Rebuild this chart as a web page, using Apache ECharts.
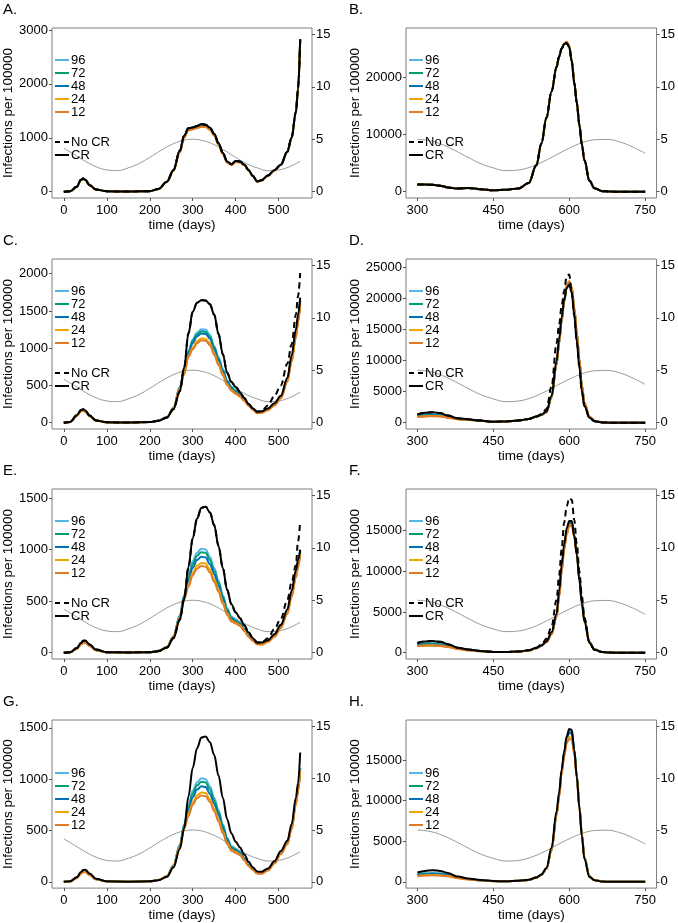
<!DOCTYPE html>
<html>
<head>
<meta charset="utf-8">
<script src="https://cdn.jsdelivr.net/npm/echarts@6/dist/echarts.min.js"></script>
<style>
  html, body { margin: 0; padding: 0; background: #fff; }
  #main { width: 678px; height: 923px; }
</style>
</head>
<body>
<div id="main"></div>
<script>
// days
const leftDays = [0,15,30,40,45,50,60,75,100,150, 200,220,240,255,270,280,290,300,310,320,
  330,340,350,360,370,380,390,400,410,420, 430,440,450,460,475,490,505,520,530,540, 545,550]
const rightDays = [300,315,330,345,360, 380,400,425,450,475, 500,520,535,545,555, 565,575,580,585,590,
  595,600,605,610,615, 620,625,630,640,650, 665,680,700,725,750]

// grey seasonal curve, right axis
const seasonLeftDays = [0,25,50,75,100,125,150,175,200,225,250,275,300,325,350,375,400,425,450,475,500,525,550]
const seasonLeft = [4.15,3.53,2.90,2.38,2.07,2.01,2.27,2.68,3.27,3.91,4.48,4.86,5.00,4.86,4.48,3.91,3.27,2.68,2.27,2.01,2.07,2.38,2.90]
const seasonRightDays = [300,325,350,375,400,425,450,475,500,525,550,575,600,625,650,675,700,725,750]
const seasonRight = [5.00,4.86,4.48,3.91,3.27,2.68,2.27,2.01,2.07,2.38,2.90,3.53,4.15,4.66,4.95,4.98,4.74,4.27,3.66]

const durations = ['96', '72', '48', '24', '12']
const durationColors = ['#56B4E9', '#009E73', '#0072B2', '#F0A500', '#E07B24']

// A
const A_cr = [0,10,90,220,245,220,120,40,8,3, 10,50,186,400,760,1040,1175,1190,1220,1250,
  1240,1185,1070,900,720,560,510,570,560,500, 400,290,190,210,300,400,500,740,1000,1480, 1900,2830]
const A_low = [0,10,88,215,240,215,118,40,8,3, 10,48,180,385,730,1000,1140,1160,1180,1205,
  1200,1150,1040,870,700,540,495,550,545,490, 395,285,185,205,295,395,495,735,995,1470, 1890,2810]

// C
const C_cr = [0,10,100,170,180,165,95,30,5,2, 8,25,70,180,420,740,1200,1490,1610,1645,
  1640,1590,1450,1190,920,670,545,480,410,330, 250,190,148,150,190,260,360,600,900,1250, 1450,1680]
const C_nocr = [0,10,100,170,180,165,95,30,5,2, 8,25,70,180,420,740,1200,1490,1610,1645,
  1640,1590,1450,1190,920,670,545,480,410,330, 250,190,148,155,230,360,500,790,1050,1450, 1700,2010]
const C_96 = [0,10,95,160,168,155,90,30,5,2, 8,28,75,200,480,700,960,1120,1210,1255,
  1250,1180,1030,880,720,570,480,430,385,320, 250,190,148,150,185,250,350,580,860,1200, 1400,1650]
const C_72 = [0,10,93,158,166,153,89,30,5,2, 8,27,74,198,475,690,945,1100,1185,1228,
  1222,1155,1010,862,705,560,472,422,378,315, 246,187,145,147,182,246,345,572,850,1185, 1385,1635]
const C_48 = [0,10,92,156,164,151,88,29,5,2, 8,27,73,196,470,680,930,1070,1160,1198,
  1192,1128,985,840,690,548,462,413,370,308, 241,183,140,143,178,242,340,565,840,1170, 1370,1620]
const C_24 = [0,10,90,152,160,148,86,28,5,2, 8,26,71,192,460,660,900,1010,1095,1132,
  1127,1065,930,795,650,515,440,395,355,295, 232,175,130,135,170,235,330,550,820,1145, 1345,1600]
const C_12 = [0,10,89,150,158,146,85,28,5,2, 8,26,70,190,455,650,885,985,1068,1105,
  1100,1040,910,775,635,505,430,388,350,290, 228,172,126,132,168,232,326,545,815,1140, 1340,1595]

// E
const E_cr = [0,5,45,95,115,118,80,30,5,2, 5,15,50,140,320,520,830,1110,1300,1405,
  1415,1360,1235,1035,820,610,470,390,335,265, 195,140,100,98,120,180,270,420,600,800, 900,1000]
const E_nocr = [0,5,45,95,115,118,80,30,5,2, 5,15,50,140,320,520,830,1110,1300,1405,
  1415,1360,1235,1035,820,610,470,390,335,265, 195,140,100,98,140,230,330,510,680,850, 1080,1270]
const E_96 = [0,4,40,85,100,100,70,25,4,2, 5,18,55,160,360,560,750,890,970,1008,
  1000,930,820,700,560,430,345,318,290,230, 170,130,97,95,115,170,255,400,570,760, 860,990]
const E_72 = [0,4,40,84,99,99,69,25,4,2, 5,18,54,158,355,550,725,860,940,975,
  968,900,795,680,545,420,338,312,285,226, 167,127,94,93,113,167,252,395,563,752, 852,980]
const E_48 = [0,4,39,83,98,98,68,24,4,2, 5,17,53,155,348,540,695,825,898,930,
  923,858,760,650,522,403,328,303,278,220, 162,122,90,90,110,163,248,390,555,745, 843,968]
const E_24 = [0,4,38,81,96,96,67,24,4,2, 5,17,52,152,340,525,660,775,842,870,
  864,805,712,610,490,380,312,290,266,212, 155,117,84,85,106,158,242,382,545,735, 832,955]
const E_12 = [0,4,38,80,95,95,66,24,4,2, 5,17,51,150,335,515,640,750,815,840,
  834,778,688,590,475,368,303,282,260,210, 155,115,80,78,104,155,238,375,540,728, 825,945]

// G
const G_cr = [0,5,45,95,115,118,80,30,5,2, 5,15,50,140,320,520,830,1110,1300,1405,
  1415,1360,1235,1035,820,610,470,390,335,265, 195,140,100,98,130,200,300,400,560,820, 960,1260]
const G_96 = [0,4,40,85,100,100,70,25,4,2, 5,18,55,160,360,560,750,890,970,1008,
  1000,930,820,700,560,430,345,318,290,230, 170,130,97,95,125,190,285,380,530,780, 910,1110]
const G_72 = [0,4,40,84,99,99,69,25,4,2, 5,18,54,158,355,550,725,860,940,975,
  968,900,795,680,545,420,338,312,285,226, 167,127,94,93,122,187,282,376,525,772, 902,1102]
const G_48 = [0,4,39,83,98,98,68,24,4,2, 5,17,53,155,348,540,695,825,898,930,
  923,858,760,650,522,403,328,303,278,220, 162,122,90,90,118,183,278,372,520,765, 895,1095]
const G_24 = [0,4,38,81,96,96,67,24,4,2, 5,17,52,152,340,525,660,775,842,870,
  864,805,712,610,490,380,312,290,266,212, 155,117,84,85,113,180,274,368,515,757, 887,1087]
const G_12 = [0,4,38,80,95,95,66,24,4,2, 5,17,51,150,335,515,640,750,815,840,
  834,778,688,590,475,368,303,282,260,210, 155,115,80,78,110,178,270,365,510,750, 880,1080]

// B
const B_cr = [1250,1250,1200,1050,750, 550,650,450,250,350, 550,1500,4600,8400,12900,
  17500,21800,23600,25000,25800, 26000,25300,22800,19000,15500, 11700,8200,5500,1900,600, 100,20,5,2,0]
const B_12 = [1250,1250,1200,1050,750, 550,650,450,250,350, 550,1500,4600,8400,12900,
  17500,21800,23600,25000,25900, 26200,25500,23000,19200,15600, 11800,8300,5600,1900,600, 100,20,5,2,0]

// D
const D_cr = [1350,1600,1700,1550,1150, 700,550,350,150,200, 350,600,1000,1300,1800,
  4300,10000,13500,17000,19800, 21700,22250,20900,17300,13000, 9000,5000,2700,800,250, 50,10,2,0,0]
const D_nocr = [1350,1600,1700,1550,1150, 700,550,350,150,200, 350,600,1000,1400,2200,
  5800,12800,15800,18800,21300, 23600,23900,21000,17300,13000, 9000,5000,2700,800,250, 50,10,2,0,0]
const D_96 = [1150,1300,1350,1250,950, 600,480,320,140,190, 340,580,950,1250,1700,
  4000,9300,12800,16300,19500, 21800,22300,21600,18300,14300, 10000,5800,3100,900,280, 55,10,2,0,0]
const D_72 = [1100,1240,1290,1200,920, 590,475,318,140,190, 340,580,950,1250,1700,
  4050,9350,12850,16350,19600, 21900,22450,21700,18400,14400, 10100,5900,3150,920,285, 56,10,2,0,0]
const D_48 = [1050,1180,1230,1150,890, 580,470,315,140,190, 340,580,950,1250,1700,
  4100,9400,12900,16400,19650, 22000,22550,21750,18450,14450, 10150,5950,3170,940,290, 58,10,2,0,0]
const D_24 = [950,1050,1100,1050,850, 560,460,310,140,190, 340,580,950,1250,1700,
  4150,9450,12950,16450,19700, 22100,22700,21800,18500,14500, 10200,6000,3200,960,295, 60,10,2,0,0]
const D_12 = [900,1000,1050,1000,800, 550,450,305,140,190, 340,580,950,1250,1700,
  4200,9500,13000,16500,19800, 22200,22800,21850,18550,14550, 10250,6050,3250,980,300, 60,10,2,0,0]

// F
const F_cr = [1200,1380,1430,1350,1050, 620,400,220,100,80, 150,300,600,900,1400,
  2500,4800,7500,10800,13300, 15300,16200,16200,14300,12000, 8900,6000,3800,1200,350, 80,15,3,0,0]
const F_nocr = [1200,1380,1430,1350,1050, 620,400,220,100,80, 150,300,600,1000,1700,
  3200,6500,9500,12700,16000, 18000,19000,18800,16300,13300, 10000,6900,4300,1300,350, 80,15,3,0,0]
const F_96 = [1030,1130,1150,1100,900, 550,350,200,95,75, 140,280,560,850,1300,
  2300,4500,7000,10200,13000, 15000,15950,16100,14500,12300, 9300,6400,4100,1300,400, 90,18,3,0,0]
const F_72 = [980,1070,1090,1045,860, 530,340,195,93,74, 140,280,560,850,1300,
  2300,4500,7000,10150,12950, 14950,15900,16050,14450,12250, 9250,6350,4080,1290,395, 88,18,3,0,0]
const F_48 = [930,1010,1030,990,820, 510,330,190,92,73, 140,280,560,850,1300,
  2300,4480,6950,10100,12900, 14900,15850,16000,14400,12200, 9200,6300,4050,1280,390, 87,17,3,0,0]
const F_24 = [830,900,910,875,740, 470,310,185,90,72, 140,280,560,850,1300,
  2280,4450,6900,10000,12750, 14700,15650,15800,14250,12100, 9150,6250,4000,1270,385, 85,17,3,0,0]
const F_12 = [780,840,850,820,700, 450,300,180,90,72, 140,280,560,850,1300,
  2250,4400,6850,9900,12600, 14550,15500,15700,14150,12050, 9100,6200,3980,1260,380, 85,16,3,0,0]

// H
const H_cr = [1150,1350,1420,1350,1100, 650,420,220,100,80, 130,250,550,900,1700,
  4200,8700,11000,13800,16000, 17900,18800,18700,16200,12900, 9100,5600,2800,600,200, 40,8,2,0,0]
const H_96 = [930,1050,1100,1050,900, 550,360,200,95,75, 125,240,530,870,1600,
  3900,8300,10700,13600,15900, 17800,18550,18500,16300,13100, 9400,5900,3000,700,220, 45,9,2,0,0]
const H_72 = [880,990,1030,990,860, 530,350,195,94,75, 125,240,530,870,1600,
  3900,8280,10650,13550,15850, 17700,18400,18350,16200,13050, 9350,5850,2980,700,220, 45,9,2,0,0]
const H_48 = [830,930,970,930,820, 510,340,190,93,74, 125,240,530,870,1600,
  3880,8250,10600,13500,15750, 17600,18300,18250,16100,13000, 9300,5800,2960,690,218, 44,9,2,0,0]
const H_24 = [730,820,850,820,720, 470,315,182,91,73, 125,240,530,870,1600,
  3860,8200,10500,13350,15500, 17250,17800,17750,15800,12850, 9200,5750,2940,680,215, 44,9,2,0,0]
const H_12 = [690,780,800,780,680, 450,300,180,90,72, 125,240,530,870,1600,
  3850,8150,10450,13250,15350, 17050,17550,17500,15650,12750, 9150,5700,2920,675,212, 43,9,2,0,0]

const leftTicks = [0, 100, 200, 300, 400, 500]
const rightTicks = [300, 450, 600, 750]
const seasonTicks = [0, 5, 10, 15]

const panels = [
  { label: 'A.', col: 0, row: 0, yMin: -117, yMax: 3037, yTicks: [0, 1000, 2000, 3000],
    lines: [A_cr, A_cr, A_cr, A_low, A_low], cr: A_cr, nocr: A_cr },
  { label: 'B.', col: 1, row: 0, yMin: -1100, yMax: 28600, yTicks: [0, 10000, 20000],
    lines: [B_cr, B_cr, B_cr, B_12, B_12], cr: B_cr, nocr: B_cr },
  { label: 'C.', col: 0, row: 1, yMin: -85, yMax: 2198, yTicks: [0, 500, 1000, 1500, 2000],
    lines: [C_96, C_72, C_48, C_24, C_12], cr: C_cr, nocr: C_nocr },
  { label: 'D.', col: 1, row: 1, yMin: -1015, yMax: 26400, yTicks: [0, 5000, 10000, 15000, 20000, 25000],
    lines: [D_96, D_72, D_48, D_24, D_12], cr: D_cr, nocr: D_nocr },
  { label: 'E.', col: 0, row: 2, yMin: -61, yMax: 1587, yTicks: [0, 500, 1000, 1500],
    lines: [E_96, E_72, E_48, E_24, E_12], cr: E_cr, nocr: E_nocr },
  { label: 'F.', col: 1, row: 2, yMin: -774, yMax: 20119, yTicks: [0, 5000, 10000, 15000],
    lines: [F_96, F_72, F_48, F_24, F_12], cr: F_cr, nocr: F_nocr },
  { label: 'G.', col: 0, row: 3, yMin: -61, yMax: 1576, yTicks: [0, 500, 1000, 1500],
    lines: [G_96, G_72, G_48, G_24, G_12], cr: G_cr, nocr: null },
  { label: 'H.', col: 1, row: 3, yMin: -766, yMax: 19911, yTicks: [0, 5000, 10000, 15000],
    lines: [H_96, H_72, H_48, H_24, H_12], cr: H_cr, nocr: null }
]

const colLeft = [52, 406]
const colWidth = [260, 252]
const rowTop = [28, 259, 489, 720]
const boxHeight = 170
const font = 'Liberation Sans, Arial, sans-serif'
const dashIcon = 'path://M0,0h5v2h-5z M9,0h5v2h-5z'

function pairs(days, vals) {
  return days.map((d, i) => [d, vals[i]])
}

function plain(v) {
  return String(v)
}

let grid = [], xAxis = [], yAxis = [], series = [], legend = [], graphic = []

panels.forEach((p, i) => {
  let left = colLeft[p.col], top = rowTop[p.row]
  let days = p.col === 0 ? leftDays : rightDays
  let xTicks = p.col === 0 ? leftTicks : rightTicks

  grid.push({ left: left, top: top, width: colWidth[p.col], height: boxHeight,
    show: true, borderColor: '#7f7f7f', borderWidth: 1 })

  xAxis.push({
    gridIndex: i, type: 'value',
    min: p.col === 0 ? -27.5 : 277.5, max: p.col === 0 ? 577.5 : 772.5,
    axisLine: { show: false, onZero: false },
    splitLine: { show: false },
    axisTick: { show: true, customValues: xTicks, length: 3, lineStyle: { color: '#555' } },
    axisLabel: { customValues: xTicks, formatter: plain, margin: 6, fontSize: 13, color: '#000', fontFamily: font },
    name: 'time (days)', nameLocation: 'middle', nameGap: 17,
    nameTextStyle: { fontSize: 13.5, color: '#000', fontFamily: font }
  })

  yAxis.push({
    gridIndex: i, type: 'value', position: 'left', min: p.yMin, max: p.yMax,
    axisLine: { show: false, onZero: false },
    splitLine: { show: false },
    axisTick: { show: true, customValues: p.yTicks, length: 3, lineStyle: { color: '#555' } },
    axisLabel: { customValues: p.yTicks, formatter: plain, margin: 4, fontSize: 13, color: '#000', fontFamily: font },
    name: 'Infections per 100000', nameLocation: 'middle', nameRotate: 90,
    nameGap: p.col === 0 ? 30 : 37,
    nameTextStyle: { fontSize: 13.5, color: '#000', fontFamily: font }
  })
  yAxis.push({
    gridIndex: i, type: 'value', position: 'right', min: -0.6, max: 15.6,
    axisLine: { show: false, onZero: false },
    splitLine: { show: false },
    axisTick: { show: true, customValues: seasonTicks, length: 3, lineStyle: { color: '#555' } },
    axisLabel: { customValues: seasonTicks, formatter: plain, margin: 4, fontSize: 13, color: '#000', fontFamily: font }
  })

  series.push({
    type: 'line', name: 'season', xAxisIndex: i, yAxisIndex: i * 2 + 1,
    data: p.col === 0 ? pairs(seasonLeftDays, seasonLeft) : pairs(seasonRightDays, seasonRight),
    smooth: 0.4, symbol: 'none', lineStyle: { width: 1, color: '#9a9a9a' }, z: 1
  })
  p.lines.forEach((vals, k) => {
    series.push({
      type: 'line', name: durations[k], xAxisIndex: i, yAxisIndex: i * 2,
      data: pairs(days, vals), smooth: 0.35, smoothMonotone: 'x', symbol: 'none',
      itemStyle: { color: durationColors[k] },
      lineStyle: { width: 2, color: durationColors[k] }, z: 2
    })
  })
  series.push({
    type: 'line', name: 'CR', xAxisIndex: i, yAxisIndex: i * 2,
    data: pairs(days, p.cr), smooth: 0.35, smoothMonotone: 'x', symbol: 'none',
    itemStyle: { color: '#000' }, lineStyle: { width: 2, color: '#000' }, z: 3
  })
  if (p.nocr) {
    series.push({
      type: 'line', name: 'No CR', xAxisIndex: i, yAxisIndex: i * 2,
      data: pairs(days, p.nocr), smooth: 0.35, smoothMonotone: 'x', symbol: 'none',
      itemStyle: { color: '#000' }, lineStyle: { width: 2, color: '#000', type: [6, 4] }, z: 4
    })
  }

  legend.push({
    data: durations.map(d => ({ name: d, icon: 'rect' })),
    orient: 'vertical', left: left + 3, top: top + (p.nocr ? 25.5 : 46.5),
    itemGap: 0, itemWidth: 14, itemHeight: 2, selectedMode: false, padding: 0,
    textStyle: { fontSize: 13, lineHeight: 13, color: '#000', fontFamily: font, padding: [0, 0, 0, -3] }
  })
  if (p.nocr) {
    legend.push({
      data: [{ name: 'No CR', icon: dashIcon }, { name: 'CR', icon: 'rect' }],
      orient: 'vertical', left: left + 3, top: top + 107.5,
      itemGap: 0, itemWidth: 14, itemHeight: 2, selectedMode: false, padding: 0,
      textStyle: { fontSize: 13, lineHeight: 12, color: '#000', fontFamily: font, padding: [0, 0, 0, -3] }
    })
  }

  graphic.push({
    type: 'text', left: p.col === 0 ? 3 : 349, top: top - 26,
    style: { text: p.label, font: '15px ' + font, fill: '#000' }
  })
})

var myChart = echarts.init(document.getElementById('main'))
myChart.setOption({
  animation: false,
  backgroundColor: '#fff',
  grid: grid,
  xAxis: xAxis,
  yAxis: yAxis,
  legend: legend,
  graphic: graphic,
  series: series
})
</script>
</body>
</html>
